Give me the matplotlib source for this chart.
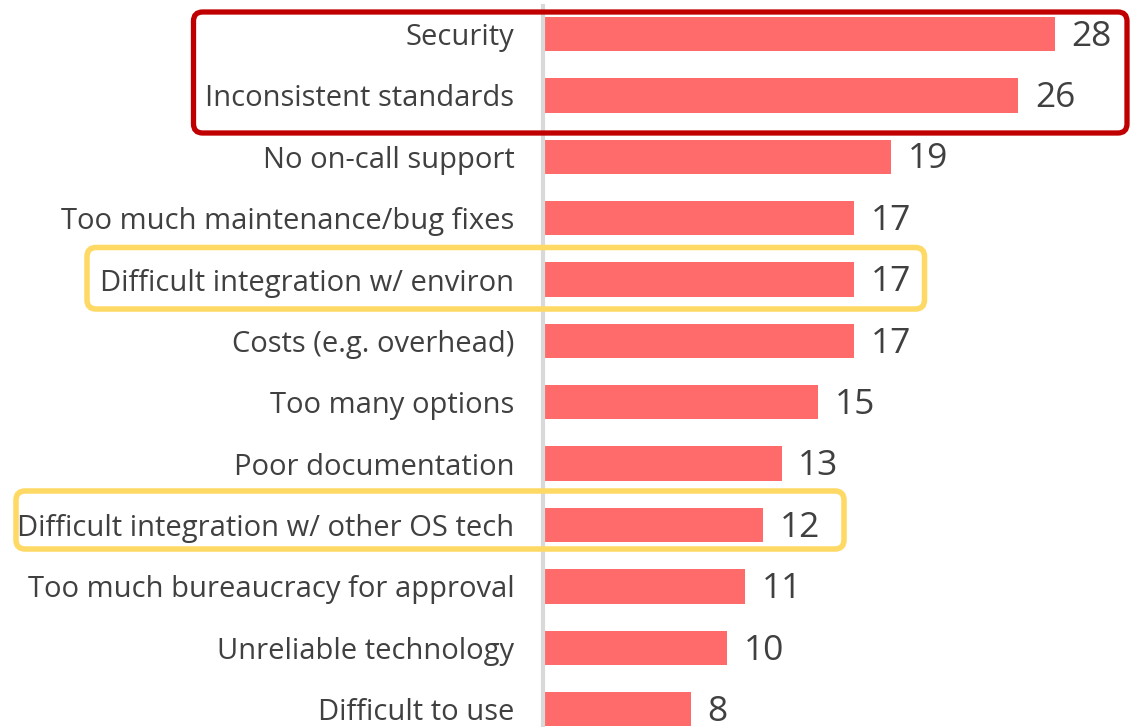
import matplotlib
matplotlib.use("Agg")
import matplotlib.pyplot as plt
from matplotlib.patches import FancyBboxPatch

# survey answers, top to bottom
labels = ["Security", "Inconsistent standards", "No on-call support",
          "Too much maintenance/bug fixes", "Difficult integration w/ environ",
          "Costs (e.g. overhead)", "Too many options", "Poor documentation",
          "Difficult integration w/ other OS tech", "Too much bureaucracy for approval",
          "Unreliable technology", "Difficult to use"]
values = [28, 26, 19, 17, 17, 17, 15, 13, 12, 11, 10, 8]

W, H = 1143, 727
bar_color = "#ff6b6b"
text_color = "#404040"

plt.rcParams['font.family'] = ['Open Sans', 'DejaVu Sans']

fig = plt.figure(figsize=(W / 100, H / 100), dpi=100)
ax = fig.add_axes([545 / W, 0, 1 - 545 / W, 1])

pos = list(range(len(labels)))
ax.barh(pos, values, height=0.56, color=bar_color)
ax.set_xlim(0, 32.85)
ax.set_ylim(11.29, -0.554)

val_size = 25.5
for p, v in zip(pos, values):
    ax.annotate(str(v), (v, p), xytext=(12, -0.33 * val_size),
                textcoords="offset points",
                va="baseline", ha="left", fontsize=val_size, color=text_color)

ax.set_yticks(pos)
ax.set_yticklabels(labels, fontsize=21, color=text_color)
for t in ax.get_yticklabels():
    t.set_verticalalignment("center_baseline")
ax.tick_params(axis="y", length=0, pad=22)
ax.set_xticks([])
for s in ax.spines.values():
    s.set_visible(False)

# gray axis line
ax.plot([-0.12, -0.12], [-0.46, 11.29], color="#d9d9d9", lw=3, clip_on=False)

# highlight boxes (pixel coords, top-left origin)
def box(x0, y0, x1, y1, color, lw):
    patch = FancyBboxPatch((x0 / W, 1 - y1 / H), (x1 - x0) / W, (y1 - y0) / H,
                           boxstyle="round,pad=0,rounding_size=0.008",
                           mutation_aspect=W / H,
                           transform=fig.transFigure, fill=False,
                           edgecolor=color, lw=lw, zorder=5)
    fig.add_artist(patch)

box(193.5, 12, 1127, 133, "#c00000", 3.8)
box(87, 247.5, 924.5, 309, "#ffd966", 4)
box(16, 491, 844, 549, "#ffd966", 4)

fig.savefig("out.png", dpi=100)
